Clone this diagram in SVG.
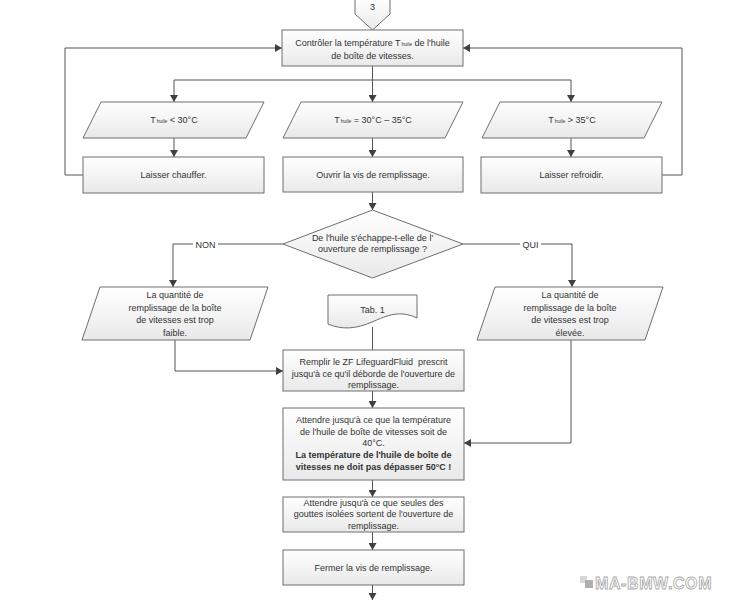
<svg xmlns="http://www.w3.org/2000/svg" width="751" height="600" viewBox="0 0 751 600">
<defs>
<linearGradient id="g" x1="0" y1="0" x2="0" y2="1">
<stop offset="0" stop-color="#ffffff"/>
<stop offset="1" stop-color="#e9e9e9"/>
</linearGradient>
<marker id="ah" markerWidth="8" markerHeight="8" refX="7" refY="4" orient="auto" markerUnits="userSpaceOnUse">
<path d="M0,0 L7,4 L0,8 Z" fill="#404040"/>
</marker>
<style>
.s{fill:url(#g);stroke:#6e6e6e;stroke-width:1}
.c{fill:none;stroke:#555;stroke-width:1}
.a{marker-end:url(#ah)}
text{font-family:"Liberation Sans",Arial,sans-serif;font-size:9px;fill:#333;text-anchor:middle}
.b{font-weight:bold}
.sub{font-size:5px}
.lbl{fill:#fff;stroke:none}
</style>
</defs>
<rect width="751" height="600" fill="#ffffff"/>

<g id="connectors">
<path class="c" d="M372.5,66 V80"/>
<path class="c" d="M174,80 H571"/>
<path class="c a" d="M174,80 V102"/>
<path class="c a" d="M372.5,80 V102"/>
<path class="c a" d="M571,80 V102"/>
<path class="c a" d="M174,138 V157"/>
<path class="c a" d="M372.5,138 V157"/>
<path class="c a" d="M571,138 V157"/>
<path class="c a" d="M83,175 H65 V48 H282"/>
<path class="c a" d="M662,175 H682 V48 H463"/>
<path class="c a" d="M372.5,192 V210"/>
<path class="c a" d="M283,244 H173 V287"/>
<path class="c a" d="M463,244 H572 V287"/>
<rect class="lbl" x="193" y="238" width="25" height="12"/>
<text x="205.5" y="247.5">NON</text>
<rect class="lbl" x="520" y="238" width="21" height="12"/>
<text x="530.5" y="247.5">QUI</text>
<path class="c a" d="M175,340 V371 H283"/>
<path class="c a" d="M571,340 V443 H464"/>
<path class="c" d="M372.5,327 V350"/>
<path class="c a" d="M372.5,391 V408"/>
<path class="c a" d="M372.5,480 V497"/>
<path class="c a" d="M372.5,532 V550"/>
<path class="c a" d="M372.5,585 V600"/>
</g>

<g id="start">
<path class="s" d="M355,-1 H390 V14 L372.5,30 L355,14 Z"/>
<text x="372.5" y="10">3</text>
</g>

<g id="controle">
<rect class="s" x="282" y="30" width="181" height="36"/>
<text x="372.5" y="46">Contrôler la température T<tspan class="sub" dx="1">huile</tspan> de l'huile</text>
<text x="372.5" y="59">de boîte de vitesses.</text>
</g>

<g id="t-low">
<path class="s" d="M101,102 H264 L246,138 H83 Z"/>
<text x="174" y="123">T<tspan class="sub" dx="1">huile</tspan> &lt; 30°C</text>
</g>
<g id="t-mid">
<path class="s" d="M301,102 H463 L445,138 H283 Z"/>
<text x="373" y="123">T<tspan class="sub" dx="1">huile</tspan> = 30°C – 35°C</text>
</g>
<g id="t-high">
<path class="s" d="M500,102 H662 L644,138 H482 Z"/>
<text x="572" y="123">T<tspan class="sub" dx="1">huile</tspan> &gt; 35°C</text>
</g>

<g id="chauffer">
<rect class="s" x="83" y="157" width="181" height="36"/>
<text x="173.5" y="178">Laisser chauffer.</text>
</g>
<g id="ouvrir">
<rect class="s" x="283" y="157" width="180" height="35"/>
<text x="373" y="178">Ouvrir la vis de remplissage.</text>
</g>
<g id="refroidir">
<rect class="s" x="481" y="157" width="181" height="36"/>
<text x="571.5" y="178">Laisser refroidir.</text>
</g>

<g id="question">
<path class="s" d="M372.5,210 L463,244 L372.5,278 L283,244 Z"/>
<text x="372.5" y="241">De l'huile s'échappe-t-elle de l'</text>
<text x="372.5" y="252">ouverture de remplissage ?</text>
</g>

<g id="faible">
<path class="s" d="M100,287 H268 L250,340 H82 Z"/>
<text x="175" y="298">La quantité de</text>
<text x="175" y="310.5">remplissage de la boîte</text>
<text x="175" y="323">de vitesses est trop</text>
<text x="175" y="335.5">faible.</text>
</g>

<g id="elevee">
<path class="s" d="M495,287 H663 L645,340 H477 Z"/>
<text x="570" y="298">La quantité de</text>
<text x="570" y="310.5">remplissage de la boîte</text>
<text x="570" y="323">de vitesses est trop</text>
<text x="570" y="335.5">élevée.</text>
</g>

<g id="tab1">
<path class="s" d="M328,295 H417 V318 C400,310 388,315 372,322 C356,329 342,330 328,324 Z"/>
<text x="372.5" y="313">Tab. 1</text>
</g>

<g id="remplir">
<rect class="s" x="283" y="350" width="181" height="41"/>
<text x="373.5" y="365">Remplir le ZF LifeguardFluid&#160; prescrit</text>
<text x="373.5" y="376.5">jusqu'à ce qu'il déborde de l'ouverture de</text>
<text x="373.5" y="388">remplissage.</text>
</g>

<g id="attendre40">
<rect class="s" x="283" y="408" width="181" height="72"/>
<text x="373.5" y="423">Attendre jusqu'à ce que la température</text>
<text x="373.5" y="434.5">de l'huile de boîte de vitesses soit de</text>
<text x="373.5" y="446">40°C.</text>
<text class="b" x="373.5" y="458">La température de l'huile de boîte de</text>
<text class="b" x="373.5" y="469.5">vitesses ne doit pas dépasser 50°C !</text>
</g>

<g id="gouttes">
<rect class="s" x="283" y="497" width="181" height="35"/>
<text x="373.5" y="505.5">Attendre jusqu'à ce que seules des</text>
<text x="373.5" y="517">gouttes isolées sortent de l'ouverture de</text>
<text x="373.5" y="528.5">remplissage.</text>
</g>

<g id="fermer">
<rect class="s" x="283" y="550" width="181" height="35"/>
<text x="373.5" y="571">Fermer la vis de remplissage.</text>
</g>

<g id="watermark">
<rect x="580" y="576" width="7" height="7" fill="#d8d8d8"/>
<rect x="585" y="580" width="8" height="8" fill="#b0b0b0"/>
<text x="595" y="589" style="text-anchor:start;font-size:16px;font-weight:bold;fill:#ffffff;stroke:#a8a8a8;stroke-width:0.8;letter-spacing:0.6px">MA-BMW.COM</text>
</g>
</svg>
